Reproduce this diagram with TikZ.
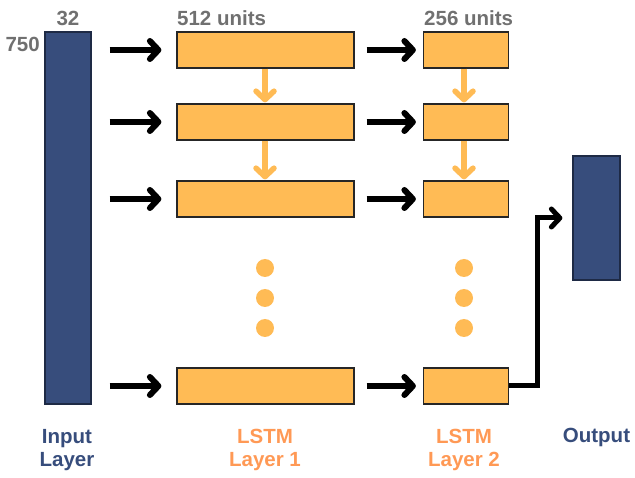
\documentclass[tikz,border=0pt]{standalone}
\usepackage{fontspec}
\setmainfont{Liberation Sans}
\usetikzlibrary{arrows.meta}
\definecolor{navy}{HTML}{374D7C}
\definecolor{navyedge}{HTML}{1E2A45}
\definecolor{lstm}{HTML}{FFBB55}
\definecolor{lbl}{HTML}{FF9955}
\definecolor{gr}{HTML}{707070}
\begin{document}
\begin{tikzpicture}[x=1pt,y=-1pt,
  font=\bfseries\fontsize{20.5}{23}\selectfont,
  bar/.style={draw=navyedge,line width=1.2pt,fill=navy,inner sep=0pt,rectangle},
  lbox/.style={draw=black!85,line width=1.2pt,fill=lstm,inner sep=0pt,rectangle,minimum height=36pt},
  wide/.style={lbox,minimum width=177pt},
  narrow/.style={lbox,minimum width=85pt},
  blk/.style={draw=black,line width=6pt,-{Straight Barb[length=8.5pt,width=18pt,round]}},
  flow/.style={draw=lstm,line width=5.5pt,-{Straight Barb[length=8.5pt,width=18pt,round]}},
  dot/.style={circle,fill=lstm,inner sep=0pt,minimum size=18pt},
  toplbl/.style={text=gr,inner sep=0pt},
  botlbl/.style={inner sep=0pt,anchor=north,align=center}]
\useasboundingbox (0,0) rectangle (635,478);
% input and output bars
\node[bar,minimum width=46pt,minimum height=372pt] (inp) at (68,218) {};
\node[bar,minimum width=47pt,minimum height=124pt] (out) at (596.5,218) {};
% LSTM layer 1
\node[wide] (a1) at (265.5,50) {};
\node[wide] (a2) at (265.5,122) {};
\node[wide] (a3) at (265.5,199) {};
\node[wide] (a4) at (265.5,386) {};
% LSTM layer 2
\node[narrow] (b1) at (466,50) {};
\node[narrow] (b2) at (466,122) {};
\node[narrow] (b3) at (466,199) {};
\node[narrow] (b4) at (466,386) {};
% dots
\node[dot] (da1) at (265,268) {};
\node[dot] (da2) at (265,298) {};
\node[dot] (da3) at (265,328) {};
\node[dot] (db1) at (464,268) {};
\node[dot] (db2) at (464,298) {};
\node[dot] (db3) at (464,328) {};
% input -> LSTM1
\foreach \n in {a1,a2,a3,a4}
  \draw[blk,shorten <=18pt,shorten >=15pt] (inp.east |- \n.west) -- (\n.west);
% LSTM1 -> LSTM2
\foreach \s/\t in {a1/b1,a2/b2,a3/b3,a4/b4}
  \draw[blk,shorten <=12pt,shorten >=7pt] (\s.east) -- (\t.west);
% vertical flows
\draw[flow,shorten >=1pt] (a1.south -| 265,0) -- (a2.north -| 265,0);
\draw[flow,shorten >=1pt] (a2.south -| 265,0) -- (a3.north -| 265,0);
\draw[flow,shorten >=1pt] (b1.south -| 464,0) -- (b2.north -| 464,0);
\draw[flow,shorten >=1pt] (b2.south -| 464,0) -- (b3.north -| 464,0);
% to output
\draw[draw=black,line width=5pt,-{Straight Barb[length=8.5pt,width=18pt,round]},shorten >=10pt]
  (b4.east) -- ++(28,0) |- (out.west);
% labels
\node[toplbl,anchor=base] (l32) at (68,26) {32};
\node[toplbl,anchor=base east] (l750) at (40,52) {750};
\node[toplbl,anchor=base west] (l512) at (177,26) {512 units};
\node[toplbl,anchor=base west] (l256) at (424,26) {256 units};
\node[botlbl,text=navy] (lin) at (67,429) {Input\\Layer};
\node[botlbl,text=lbl] (ll1) at (265,429) {LSTM\\Layer 1};
\node[botlbl,text=lbl] (ll2) at (464,429) {LSTM\\Layer 2};
\node[botlbl,text=navy] (lout) at (596.5,428) {Output};
\end{tikzpicture}
\end{document}
